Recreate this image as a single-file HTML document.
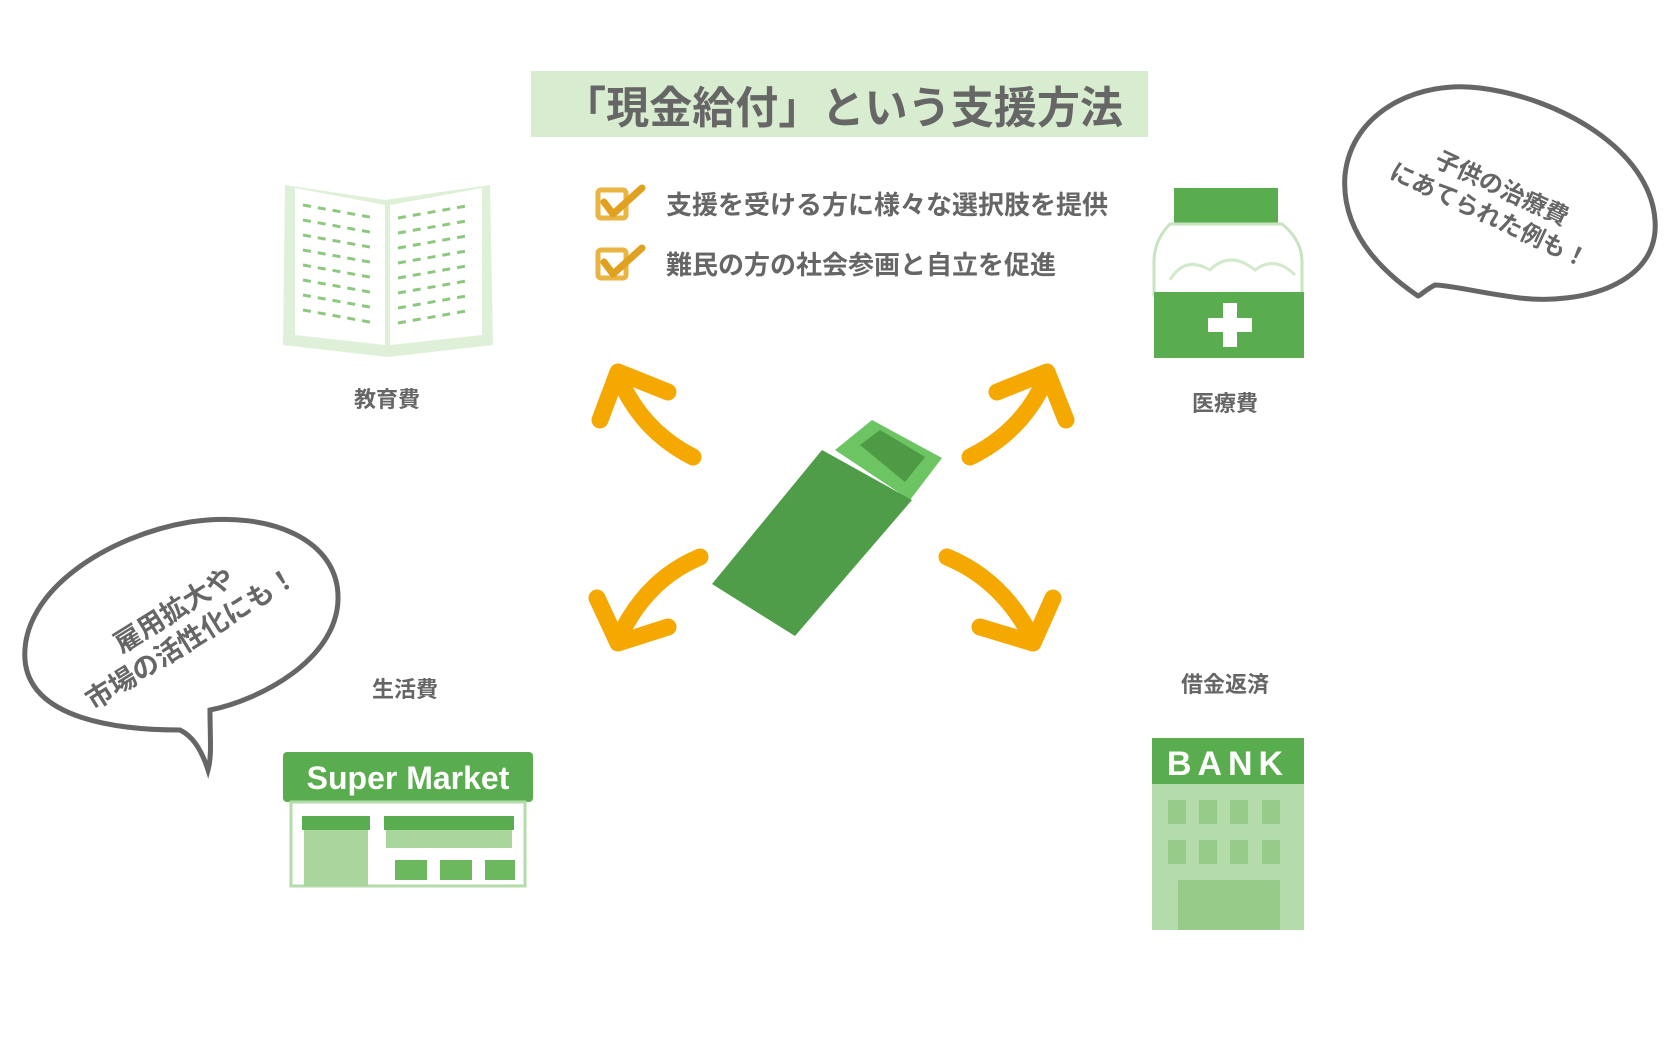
<!DOCTYPE html>
<html><head><meta charset="utf-8"><style>
html,body{margin:0;padding:0;background:#fff;}
body{width:1665px;height:1040px;position:relative;overflow:hidden;font-family:"Liberation Sans","Noto Sans CJK JP",sans-serif;}
.t{position:absolute;color:#666;white-space:nowrap;font-weight:bold;}
</style></head><body>
<svg width="1665" height="1040" style="position:absolute;left:0;top:0" xmlns="http://www.w3.org/2000/svg">
<rect x="531" y="71" width="617" height="66" fill="#d8eccf"/>
<text x="563" y="123" font-size="44" fill="#666" font-weight="bold" font-family="Noto Sans CJK JP, sans-serif" textLength="560" lengthAdjust="spacingAndGlyphs">「現金給付」という支援方法</text>
<g fill="none" stroke="#e9b440" stroke-width="5">
<rect x="598" y="190" width="28" height="28" rx="3"/>
<rect x="598" y="250" width="28" height="28" rx="3"/>
</g>
<g fill="none" stroke="#e0a020" stroke-width="7" stroke-linecap="round" stroke-linejoin="round">
<polyline points="604,202 613,214 642,188"/>
<polyline points="604,262 613,274 642,248"/>
</g>
<text x="666" y="214" font-size="26" fill="#666" font-weight="bold" font-family="Noto Sans CJK JP, sans-serif">支援を受ける方に様々な選択肢を提供</text>
<text x="666" y="274" font-size="26" fill="#666" font-weight="bold" font-family="Noto Sans CJK JP, sans-serif">難民の方の社会参画と自立を促進</text>

<path d="M285,185 L385,200 L490,185 L493,345 L388,357 L283,345 Z" fill="#dff0d8"/>
<path d="M295,188 L385,205 L385,345 L295,335 Z M390,205 L482,188 L482,335 L390,345 Z" fill="#fff"/>
<g stroke="#8cc97e" stroke-width="3" stroke-dasharray="8 7">
<line x1="303" y1="205" x2="375" y2="218"/><line x1="303" y1="220" x2="375" y2="233"/><line x1="303" y1="235" x2="375" y2="248"/><line x1="303" y1="250" x2="375" y2="263"/><line x1="303" y1="265" x2="375" y2="278"/><line x1="303" y1="280" x2="375" y2="293"/><line x1="303" y1="295" x2="375" y2="308"/><line x1="303" y1="310" x2="375" y2="323"/>
<line x1="398" y1="218" x2="472" y2="205"/><line x1="398" y1="233" x2="472" y2="220"/><line x1="398" y1="248" x2="472" y2="235"/><line x1="398" y1="263" x2="472" y2="250"/><line x1="398" y1="278" x2="472" y2="265"/><line x1="398" y1="293" x2="472" y2="280"/><line x1="398" y1="308" x2="472" y2="295"/><line x1="398" y1="323" x2="472" y2="310"/>
</g>

<rect x="1174" y="188" width="104" height="36" fill="#5aad4e"/>
<path d="M1170,224 L1282,224 Q1302,240 1302,262 L1302,295 L1154,295 L1154,262 Q1154,240 1170,224 Z" fill="#fff" stroke="#c7e3bf" stroke-width="3"/>
<g fill="none" stroke="#d3e9cc" stroke-width="3"><path d="M1170,280 q15,-25 40,-10 q20,-20 45,0 q20,-15 40,5"/></g>
<rect x="1154" y="292" width="150" height="66" fill="#5aad4e"/>
<rect x="1208" y="318" width="44" height="14" fill="#fff"/>
<rect x="1223" y="303" width="14" height="44" fill="#fff"/>

<rect x="1152" y="738" width="152" height="192" fill="#b4dbaa"/>
<rect x="1152" y="738" width="152" height="46" fill="#5aad4e"/>
<g fill="#96cb89">
<rect x="1168" y="800" width="18" height="24"/><rect x="1199" y="800" width="18" height="24"/><rect x="1230" y="800" width="18" height="24"/><rect x="1262" y="800" width="18" height="24"/>
<rect x="1168" y="840" width="18" height="24"/><rect x="1199" y="840" width="18" height="24"/><rect x="1230" y="840" width="18" height="24"/><rect x="1262" y="840" width="18" height="24"/>
<rect x="1178" y="880" width="102" height="50"/>
</g>
<text x="1228" y="775" text-anchor="middle" font-size="34" font-weight="bold" fill="#fff" font-family="Liberation Sans, sans-serif" letter-spacing="6">BANK</text>

<rect x="283" y="752" width="250" height="50" rx="4" fill="#5aad4e"/>
<text x="408" y="789" text-anchor="middle" font-size="32" font-weight="bold" fill="#fff" font-family="Liberation Sans, sans-serif">Super Market</text>
<rect x="291" y="802" width="234" height="84" fill="#fff" stroke="#b4dbaa" stroke-width="3"/>
<rect x="302" y="816" width="68" height="14" fill="#5aad4e"/>
<rect x="304" y="830" width="64" height="56" fill="#a8d69c"/>
<rect x="384" y="816" width="130" height="14" fill="#5aad4e"/>
<rect x="386" y="830" width="126" height="18" fill="#a8d69c"/>
<g fill="#6bb85e"><rect x="395" y="860" width="32" height="20"/><rect x="440" y="860" width="32" height="20"/><rect x="485" y="860" width="30" height="20"/></g>

<g fill="none" stroke="#f5a800" stroke-width="17" stroke-linecap="round" stroke-linejoin="round">
<path d="M693,457 Q640,430 618,375"/><polyline points="600,420 618,372 668,392"/>
<path d="M970,457 Q1025,430 1047,375"/><polyline points="997,392 1047,372 1066,420"/>
<path d="M700,557 Q645,580 618,640"/><polyline points="597,598 618,643 668,627"/>
<path d="M947,557 Q1003,580 1033,640"/><polyline points="980,627 1033,643 1053,598"/>
</g>

<polygon points="835,450 872,420 942,458 910,500" fill="#6cc462"/>
<polygon points="860,445 880,430 925,457 905,482" fill="#4e9a45"/>
<polygon points="822,450 912,500 795,636 712,584" fill="#4f9d48"/>

<g fill="#fff" stroke="#666" stroke-width="5">
<path d="M1418,296 C1395,280 1340,240 1345,175 C1352,110 1420,80 1480,88 C1560,98 1650,150 1655,220 C1660,285 1580,305 1520,298 C1480,293 1450,285 1435,285 C1425,290 1420,296 1418,296 Z"/>
<path d="M208,770 C200,745 190,735 180,730 C120,730 30,720 25,660 C20,590 110,535 190,522 C270,510 340,540 338,600 C336,660 260,700 210,710 C210,740 212,755 208,770 Z"/>
</g>
</svg>
<div class="t" style="left:1495px;top:203px;font-size:24px;line-height:30px;text-align:center;transform:translate(-50%,-50%) rotate(25deg);">子供の治療費<br>にあてられた例も！</div>
<div class="t" style="left:183px;top:625px;font-size:27px;line-height:33px;text-align:center;transform:translate(-50%,-50%) rotate(-32deg);">雇用拡大や<br>市場の活性化にも！</div>
<div class="t" style="left:387px;top:398px;font-size:22px;transform:translate(-50%,-50%);">教育費</div>
<div class="t" style="left:1225px;top:402px;font-size:22px;transform:translate(-50%,-50%);">医療費</div>
<div class="t" style="left:405px;top:688px;font-size:22px;transform:translate(-50%,-50%);">生活費</div>
<div class="t" style="left:1225px;top:683px;font-size:22px;transform:translate(-50%,-50%);">借金返済</div>
</body></html>
